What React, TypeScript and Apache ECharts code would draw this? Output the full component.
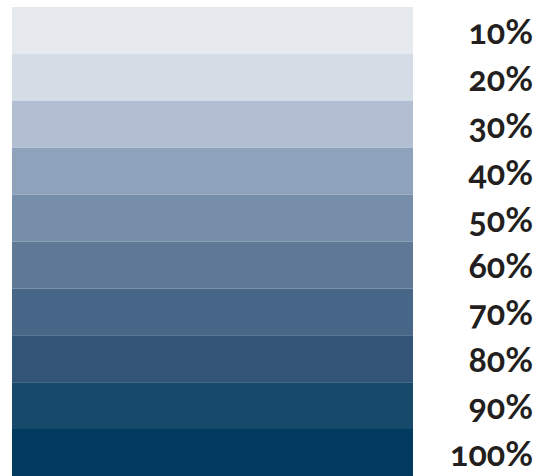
import React, { useEffect, useRef } from "react";
import * as echarts from "echarts";

const categories = ["10%", "20%", "30%", "40%", "50%", "60%", "70%", "80%", "90%", "100%"];
const values = [1, 1, 1, 1, 1, 1, 1, 1, 1, 1];
const shades = [
  "#e6eaef",
  "#d4dce5",
  "#b2bed1",
  "#8fa2bb",
  "#778eab",
  "#5e7896",
  "#486687",
  "#325577",
  "#17496b",
  "#003a5f",
];

export default function App() {
  const ref = useRef<HTMLDivElement>(null);
  useEffect(() => {
    if (!ref.current) return;
    const chart = echarts.init(ref.current, null, { renderer: "svg" });
    chart.setOption({
      animation: false,
      grid: { left: 12, top: 7, width: 401, height: 471, containLabel: false },
      xAxis: {
        type: "value",
        min: 0,
        max: 1,
        show: false,
      },
      yAxis: {
        type: "category",
        data: categories,
        inverse: true,
        position: "right",
        axisLine: { show: false },
        axisTick: { show: false },
        splitLine: { show: false },
        axisLabel: {
          align: "right",
          margin: 120,
          fontFamily: "Lato",
          fontWeight: "bold",
          fontSize: 34,
          color: "#231f20",
        },
      },
      series: [
        {
          type: "bar",
          data: values.map((v, i) => ({ value: v, itemStyle: { color: shades[i] } })),
          barWidth: "100%",
          barCategoryGap: 0,
        },
      ],
    });
    return () => chart.dispose();
  }, []);
  return (
    <>
      <style>{"#chart text{font-variant-numeric: oldstyle-nums; font-feature-settings: 'onum' 1;}"}</style>
      <div
        id="chart"
        ref={ref}
        style={{ position: "absolute", left: 0, top: 0, width: 552, height: 476, background: "#fff" }}
      />
    </>
  );
}
